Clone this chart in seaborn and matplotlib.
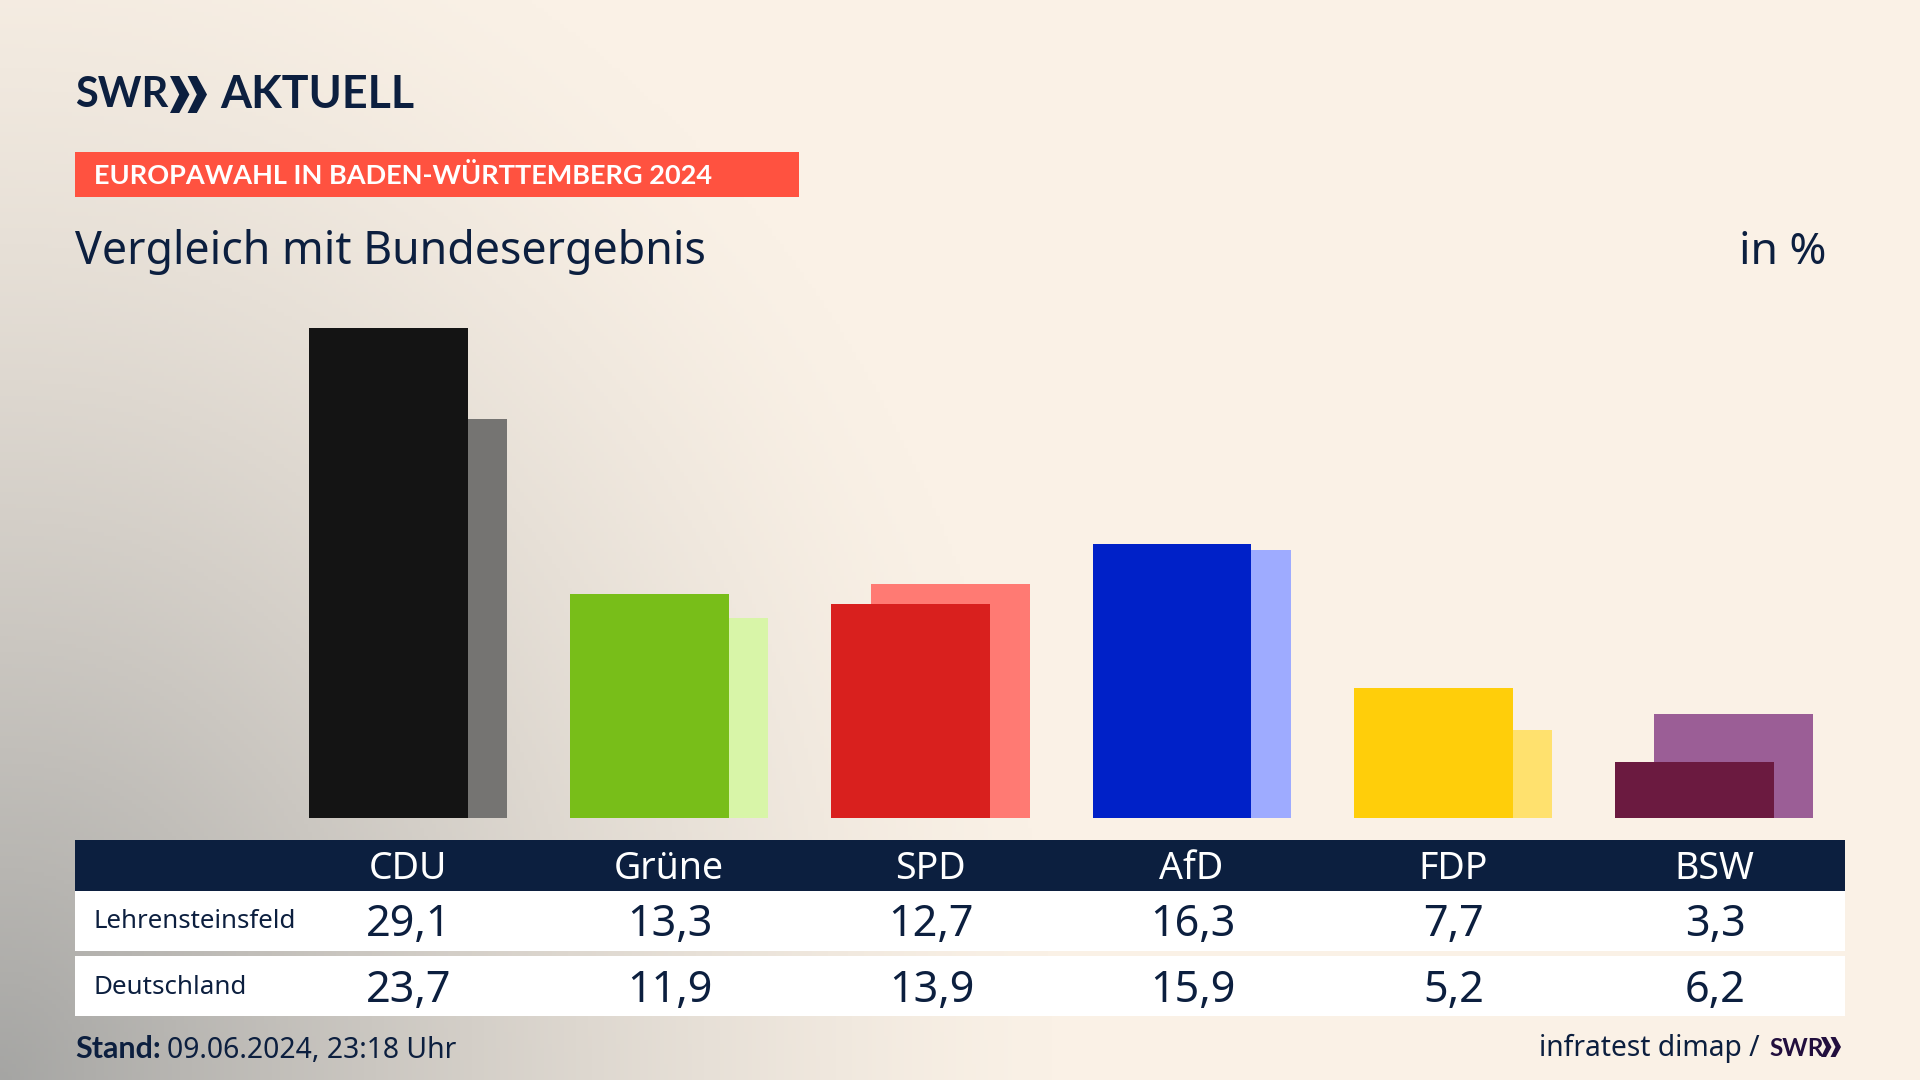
import numpy as np
import matplotlib
matplotlib.use('Agg')
import matplotlib.pyplot as plt
from matplotlib.patches import Rectangle, Polygon
import seaborn as sns

# =========================
# DATA
# =========================

parties = ['CDU', 'Grüne', 'SPD', 'AfD', 'FDP', 'BSW']
lehrensteinsfeld = [29.1, 13.3, 12.7, 16.3, 7.7, 3.3]
deutschland = [23.7, 11.9, 13.9, 15.9, 5.2, 6.2]
colors_front = ['#141414', '#78BE19', '#D9201E', '#0021C8', '#FFCE0A', '#6B1A40']
colors_back = ['#757472', '#D8F5A8', '#FF7A73', '#9EABFF', '#FFE16E', '#9B5E96']

NAVY = '#0C1F3F'
FONT = 'Noto Sans'
BOLD_FONT = 'Lato'

sns.set_theme(style='white')
plt.rcParams['font.family'] = [FONT, 'DejaVu Sans']

fig = plt.figure(figsize=(19.2, 10.8), dpi=100)

# =========================
# BACKGROUND (pixel coordinates)
# =========================

bg = fig.add_axes([0, 0, 1, 1])
bg.set_xlim(0, 1920)
bg.set_ylim(1080, 0)
bg.axis('off')

yy, xx = np.mgrid[0:1080:4, 0:1920:4]
dist = np.sqrt((xx / 1050) ** 2 + ((1080 - yy) / 1250) ** 2)
t = np.clip(1 - dist, 0, 1) ** 1.35
cream = np.array([250, 241, 230]) / 255
gray = np.array([165, 165, 163]) / 255
grad = cream + (gray - cream) * t[..., None]
bg.imshow(grad, extent=(0, 1920, 1080, 0), aspect='auto', zorder=0)
bg.set_xlim(0, 1920)
bg.set_ylim(1080, 0)


def put(x, y, s, size, color=NAVY, ha='left', bold=False):
    if bold:
        bg.text(x, y, s, fontsize=size, color=color, ha=ha, va='center', weight='bold',
                family=BOLD_FONT, zorder=3)
    else:
        bg.text(x, y, s, fontsize=size, color=color, ha=ha, va='center', zorder=3)


def chevrons(x, y, h, color):
    # two arrow heads of the SWR logo
    w = h * 0.5
    for dx in (0, w * 0.95):
        bg.add_patch(Polygon([(x + dx, y), (x + dx + w * 0.5, y), (x + dx + w * 1.05, y + h / 2),
                              (x + dx + w * 0.5, y + h), (x + dx, y + h), (x + dx + w * 0.5, y + h / 2)],
                             closed=True, fc=color, ec='none', zorder=3))


# =========================
# HEADER
# =========================

put(75, 95, 'SWR', 30, bold=True)
chevrons(170, 76, 37, NAVY)
put(220, 95, 'AKTUELL', 32.2, bold=True)

bg.add_patch(Rectangle((75, 152), 724, 45, fc='#FF5240', ec='none', zorder=2))
put(94, 176, 'EUROPAWAHL IN BADEN-WÜRTTEMBERG 2024', 19.5, color='white', bold=True)
put(75, 252, 'Vergleich mit Bundesergebnis', 32.2)
put(1826, 253, 'in %', 32, ha='right')

# =========================
# BARS
# =========================

step = 261.2
ax = fig.add_axes([0, 1 - 818 / 1080, 1, 518 / 1080])
ax.patch.set_alpha(0)
idx = np.arange(len(parties))

sns.barplot(x=idx + 0.076, y=deutschland, hue=parties, palette=colors_back, native_scale=True,
            width=0.608, dodge=False, saturation=1, linewidth=0, legend=False, ax=ax)
sns.barplot(x=idx - 0.075, y=lehrensteinsfeld, hue=parties, palette=colors_front, native_scale=True,
            width=0.608, dodge=False, saturation=1, linewidth=0, legend=False, ax=ax)

ax.set_xlim(-408 / step, (1920 - 408) / step)
ax.set_ylim(0, 518 / (490 / 29.1))
ax.axis('off')

# =========================
# TABLE
# =========================

bg.add_patch(Rectangle((75, 840), 1770, 51, fc=NAVY, ec='none', zorder=2))
bg.add_patch(Rectangle((75, 891), 1770, 60, fc='white', ec='none', zorder=2))
bg.add_patch(Rectangle((75, 956), 1770, 60, fc='white', ec='none', zorder=2))

put(94, 922, 'Lehrensteinsfeld', 18.6)
put(94, 988, 'Deutschland', 18.7)

for i, party in enumerate(parties):
    x = 408 + i * step
    put(x, 869, party, 27, color='white', ha='center')
    put(x + 1, 925, f'{lehrensteinsfeld[i]:.1f}'.replace('.', ','), 31, ha='center')
    put(x + 1, 991, f'{deutschland[i]:.1f}'.replace('.', ','), 31, ha='center')

# =========================
# FOOTER
# =========================

put(75, 1049, 'Stand:', 22, bold=True)
put(167, 1050, '09.06.2024, 23:18 Uhr', 20.4)
put(1760, 1048, 'infratest dimap /', 20.3, ha='right')
put(1769, 1048, 'SWR', 17.5, color='#220F3E', bold=True)
chevrons(1821, 1037, 20, '#220F3E')

fig.savefig('out.png', dpi=100)
